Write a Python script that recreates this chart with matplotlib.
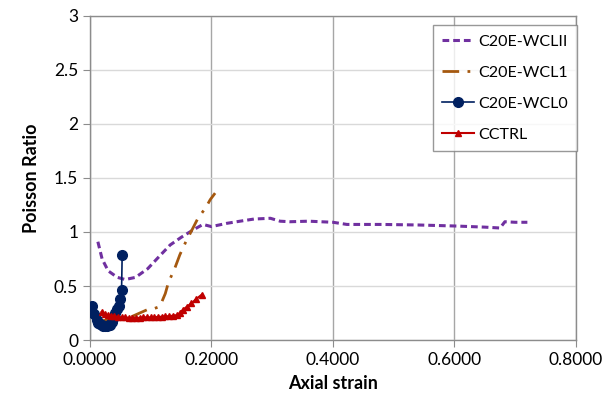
import matplotlib.pyplot as plt
import numpy as np

# C20E-WCLII (dashed purple)
wcl2_x = [0.013, 0.020, 0.030, 0.045, 0.058, 0.075, 0.095, 0.115, 0.132, 0.150, 0.170, 0.186,
          0.200, 0.225, 0.247, 0.270, 0.297, 0.313, 0.329, 0.360, 0.400, 0.423, 0.480, 0.540,
          0.604, 0.650, 0.675, 0.683, 0.700, 0.720]
wcl2_y = [0.91, 0.75, 0.64, 0.58, 0.56, 0.58, 0.66, 0.78, 0.88, 0.95, 1.02, 1.07,
          1.05, 1.08, 1.10, 1.12, 1.127, 1.10, 1.095, 1.10, 1.09, 1.07, 1.07, 1.065,
          1.055, 1.045, 1.037, 1.095, 1.09, 1.09]

# C20E-WCL1 (brown dash-dot)
wcl1_x = [0.010, 0.020, 0.044, 0.070, 0.094, 0.105, 0.115, 0.124, 0.129, 0.140, 0.148, 0.157,
          0.168, 0.178, 0.190, 0.198, 0.206]
wcl1_y = [0.20, 0.18, 0.19, 0.22, 0.28, 0.29, 0.31, 0.43, 0.53, 0.67, 0.79, 0.90,
          1.02, 1.13, 1.22, 1.30, 1.36]

# C20E-WCL0 (navy, circles)
wcl0_x = [0.004, 0.007, 0.011, 0.014, 0.017, 0.020, 0.022, 0.025, 0.028, 0.031, 0.033,
          0.036, 0.039, 0.041, 0.044, 0.047, 0.050, 0.052, 0.053]
wcl0_y = [0.315, 0.24, 0.185, 0.16, 0.145, 0.135, 0.13, 0.128, 0.13, 0.135, 0.14,
          0.17, 0.21, 0.25, 0.29, 0.315, 0.38, 0.46, 0.79]

# CCTRL (red, triangles)
ctrl_x = [0.019, 0.024, 0.029, 0.034, 0.040, 0.046, 0.052, 0.058, 0.064, 0.070, 0.076, 0.082,
          0.088, 0.094, 0.100, 0.106, 0.112, 0.118, 0.124, 0.130, 0.136, 0.143, 0.148, 0.153,
          0.160, 0.167, 0.175, 0.184]
ctrl_y = [0.26, 0.24, 0.23, 0.225, 0.22, 0.215, 0.21, 0.21, 0.205, 0.205, 0.205, 0.205,
          0.21, 0.21, 0.21, 0.21, 0.215, 0.215, 0.22, 0.22, 0.225, 0.23, 0.25, 0.28,
          0.31, 0.34, 0.38, 0.42]

x_ticks = [0.0, 0.2, 0.4, 0.6, 0.8]
y_ticks = [0, 0.5, 1, 1.5, 2, 2.5, 3]

plt.rcParams['font.family'] = ['Lato', 'DejaVu Sans']

fig = plt.figure(figsize=(6.1, 4.09), dpi=100)
ax = fig.add_axes([0.1475, 0.1687, 0.7967, 0.7922])

ax.plot(wcl2_x, wcl2_y, color='#7030A0', lw=2.2, ls=(0, (2.2, 1.3)), label='C20E-WCLII', zorder=3)
ax.plot(wcl1_x, wcl1_y, color='#A5580F', lw=2.0, ls=(0, (6, 3, 1, 3)), label='C20E-WCL1', zorder=3)
ax.plot(wcl0_x, wcl0_y, color='#002060', lw=1.2, marker='o', ms=7, label='C20E-WCL0', zorder=4)
ax.plot(ctrl_x, ctrl_y, color='#C00000', lw=1.5, marker='^', ms=4, label='CCTRL', zorder=5)

ax.set_xlim(0, 0.8)
ax.set_ylim(0, 3)
ax.set_xticks(x_ticks)
ax.set_xticklabels([f'{v:.4f}' for v in x_ticks])
ax.set_yticks(y_ticks)
ax.set_yticklabels([f'{v:g}' for v in y_ticks])

ax.grid(axis='y', color='#D9D9D9', lw=1)
ax.grid(axis='x', color='#A6A6A6', lw=1)
ax.set_axisbelow(True)
for s in ax.spines.values():
    s.set_color('#8C8C8C')
    s.set_linewidth(1)
ax.tick_params(colors='#8C8C8C', labelcolor='black', labelsize=12.5, length=5, direction='out')

ax.set_xlabel('Axial strain', fontsize=13, fontweight='bold', labelpad=5)
ax.set_ylabel('Poisson Ratio', fontsize=13, fontweight='bold', labelpad=10)

leg = ax.legend(loc='upper right', bbox_to_anchor=(1.003, 0.972), fontsize=11.5, frameon=True,
                fancybox=False, edgecolor='#7F7F7F', handlelength=2.0, handletextpad=0.25,
                borderpad=0.6, labelspacing=1.05, borderaxespad=0)
leg.get_frame().set_linewidth(1)

fig.savefig('out.png', dpi=100)
